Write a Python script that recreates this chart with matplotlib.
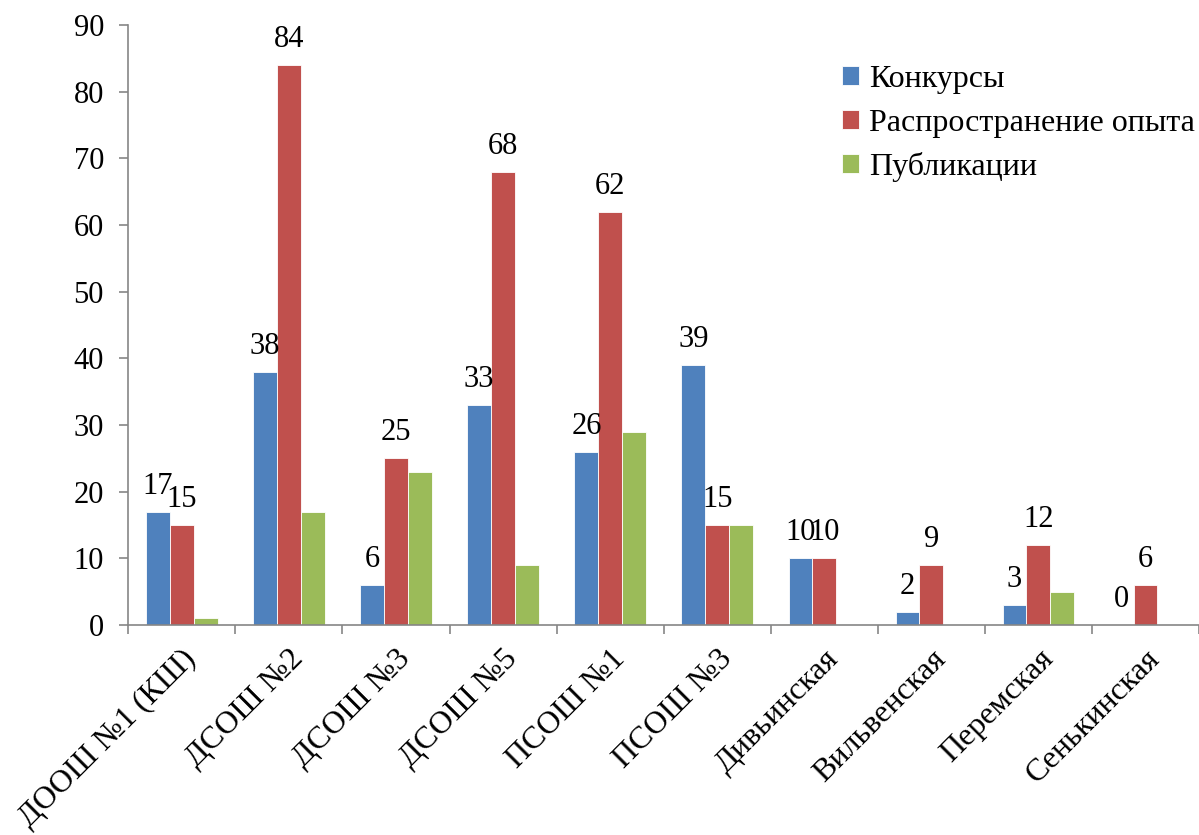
import matplotlib.pyplot as plt
import numpy as np

schools = ["ДООШ №1 (КШ)", "ДСОШ №2", "ДСОШ №3", "ДСОШ №5", "ПСОШ №1",
           "ПСОШ №3", "Дивьинская", "Вильвенская", "Перемская", "Сенькинская"]
contests = [17, 38, 6, 33, 26, 39, 10, 2, 3, 0]
experience = [15, 84, 25, 68, 62, 15, 10, 9, 12, 6]
publications = [1, 17, 23, 9, 29, 15, 0, 0, 5, 0]

plt.rcParams['font.family'] = ['Liberation Serif', 'DejaVu Serif']
FS = 22

fig = plt.figure(figsize=(11.99, 8.35), dpi=100)
ax = fig.add_axes([0.107, 0.2515, 0.893, 0.7185])

x = np.arange(len(schools))
w = 1 / 4.5
colors = ['#4f81bd', '#c0504d', '#9bbb59']
series = [("Конкурсы", contests), ("Распространение опыта", experience),
          ("Публикации", publications)]

for i, (name, vals) in enumerate(series):
    pos = x - w + i * w
    ax.bar(pos, vals, width=w, color=colors[i], label=name,
           edgecolor='white', linewidth=0.6, zorder=2)
    # only the first two series carry value labels
    if i < 2:
        for p, v in zip(pos, vals):
            ax.annotate(str(v), (p, v), xytext=(0, 8), textcoords='offset points',
                        ha='center', va='bottom', fontsize=FS)

ax.set_xlim(-0.5, len(schools) - 0.5)
ax.set_ylim(0, 90)
ax.set_yticks(range(0, 91, 10))
ax.tick_params(axis='y', labelsize=FS, direction='out', length=6.5, width=1.2,
               color='#868686', pad=11)
ax.set_xticks(np.arange(-0.5, len(schools), 1))
ax.set_xticklabels([])
ax.tick_params(axis='x', direction='out', length=6.5, width=1.2, color='#868686')
ax.set_xticks(x, minor=True)
ax.set_xticklabels(schools, minor=True, rotation=45, ha='right',
                   rotation_mode='anchor', fontsize=23)
ax.tick_params(axis='x', which='minor', length=0, pad=14)

for s in ['top', 'right']:
    ax.spines[s].set_visible(False)
for s in ['left', 'bottom']:
    ax.spines[s].set_color('#868686')
    ax.spines[s].set_linewidth(1.2)

fig.legend(loc='upper left', bbox_to_anchor=(0.702, 0.922), frameon=False,
           fontsize=23, handlelength=0.55, handleheight=0.55, borderpad=0,
           borderaxespad=0, handletextpad=0.3, labelspacing=0.45)

fig.savefig("out.png", dpi=100)
